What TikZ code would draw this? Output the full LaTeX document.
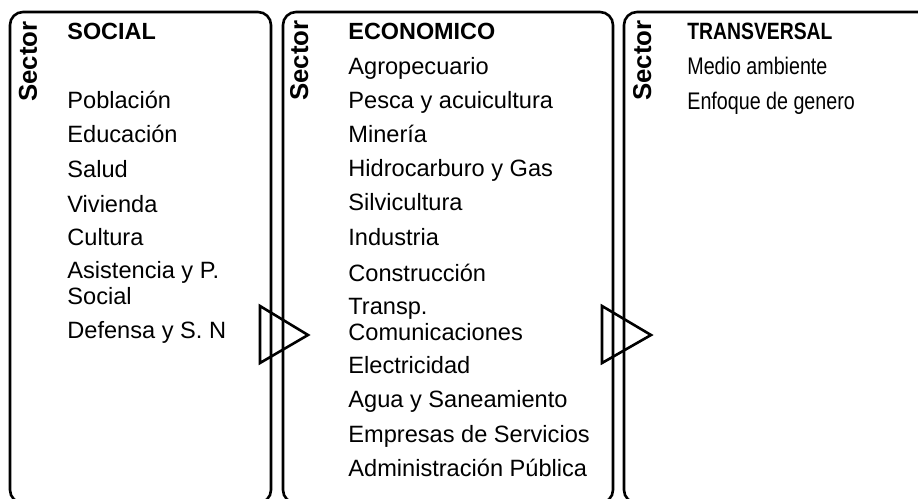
\documentclass[tikz,border=0pt]{standalone}
\usepackage{fontspec}
\setmainfont{Liberation Sans}
\newfontfamily\fuenteAngosta[FakeStretch=0.82]{Liberation Sans}
\tikzset{
  cajaSector/.style={draw=black, line width=1.3pt, rounded corners=6.5pt},
  flechaPaso/.style={draw=black, line width=1.3pt, line join=miter},
  etiquetaSector/.style={rotate=90, anchor=base west, inner sep=0pt,
    font=\fontsize{12.9}{14}\selectfont\bfseries},
  titulo/.style={anchor=base west, inner sep=0pt,
    font=\fontsize{11.7}{13}\selectfont\bfseries},
  renglon/.style={anchor=base west, inner sep=0pt, align=left,
    font=\fontsize{11.8}{12.6}\selectfont},
  tituloAngosto/.style={titulo, font=\fontsize{11.8}{13}\selectfont\fuenteAngosta\bfseries},
  renglonAngosto/.style={renglon, font=\fontsize{12}{13}\selectfont\fuenteAngosta},
}
\begin{document}
\begin{tikzpicture}[x=0.5pt, y=-0.5pt]
  \useasboundingbox (0,0) rectangle (918,499);
  \clip (0,0) rectangle (918,499);
  \draw[cajaSector] (10,12) rectangle (271,503);
  \draw[cajaSector] (283,12) rectangle (613,503);
  \draw[cajaSector] (624,12) rectangle (945,503);
  \draw[flechaPaso] (260,306) -- (308,335) -- (260,363) -- cycle;
  \draw[flechaPaso] (602,306) -- (651,335) -- (602,363) -- cycle;

  \node[etiquetaSector] (sec1) at (37,102) {Sector};
  \node[etiquetaSector] (sec2) at (308,101) {Sector};
  \node[etiquetaSector] (sec3) at (651,101) {Sector};

  \node[titulo] (social) at (67,39) {SOCIAL};
  \foreach \y/\txt [count=\i] in {108/Población, 142/Educación, 177/Salud,
      212/Vivienda, 245/Cultura, 304/Asistencia y P.\\Social,
      338/Defensa y S. N}
    \node[renglon] (soc\i) at (67,\y) {\txt};

  \node[titulo] (economico) at (348,39) {ECONOMICO};
  \foreach \y/\txt [count=\i] in {74/Agropecuario, 108/Pesca y acuicultura,
      142/Minería, 176/Hidrocarburo y Gas, 210/Silvicultura, 245/Industria,
      281/Construcción, 340/Transp.\\Comunicaciones, 373/Electricidad,
      407/Agua y Saneamiento, 442/Empresas de Servicios,
      476/Administración Pública}
    \node[renglon] (eco\i) at (348,\y) {\txt};

  \node[tituloAngosto] (transversal) at (687,39) {TRANSVERSAL};
  \foreach \y/\txt [count=\i] in {74/Medio ambiente, 109/Enfoque de genero}
    \node[renglonAngosto] (tra\i) at (687,\y) {\txt};
\end{tikzpicture}
\end{document}
